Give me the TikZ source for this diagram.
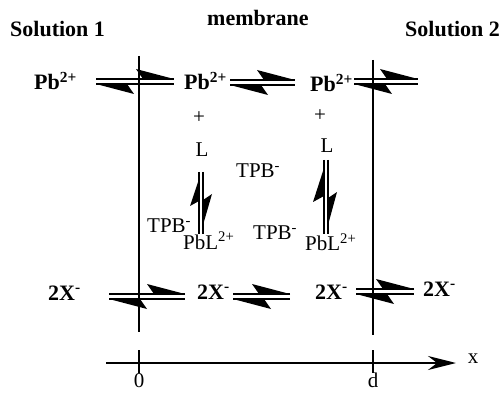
\documentclass[tikz,border=0pt]{standalone}
\usepackage{fontspec}
\setmainfont{Liberation Serif}
\usetikzlibrary{arrows.meta}
\tikzset{
  bold/.style={font=\fontsize{22}{24}\selectfont\bfseries, inner sep=0pt},
  reg/.style={font=\fontsize{21}{24}\selectfont, inner sep=0pt},
  wall/.style={line width=2pt},
  eql/.style={line width=1.8pt},
  pics/eqh/.style={code={
    \draw[eql] (0,0) -- (#1,0);
    \fill (#1,0) -- ++(-38,-10) -- ++(7,10) -- cycle;
    \draw[eql] (0,5) -- (#1,5);
    \fill (0,5) -- ++(38,10) -- ++(-7,-10) -- cycle;
  }},
  pics/eqvA/.style={code={
    \draw[eql] (0,0) -- (0,62);
    \draw[eql] (4,0) -- (4,62);
    \fill (0,7) -- (-9,34) -- (0,29) -- cycle;
    \fill (4,53) -- (13,22) -- (4,28) -- cycle;
  }},
  pics/eqvB/.style={code={
    \draw[eql] (0,0) -- (0,74);
    \draw[eql] (4,0) -- (4,74);
    \fill (0,8) -- (-11,42) -- (0,36) -- cycle;
    \fill (4,65) -- (13,32) -- (4,38) -- cycle;
  }}
}
\begin{document}
\begin{tikzpicture}[x=1pt,y=-1pt]
\useasboundingbox (0,0) rectangle (501,393);
% membrane walls
\coordinate (w1t) at (139,56);
\coordinate (w1b) at (139,332);
\coordinate (w2t) at (373,60);
\coordinate (w2b) at (373,335);
\draw[wall] (w1t) -- (w1b);
\draw[wall] (w2t) -- (w2b);
% headers
\node[bold, anchor=base west] (s1) at (10,37) {Solution 1};
\node[bold, anchor=base west] (mem) at (207,26) {membrane};
\node[bold, anchor=base west] (s2) at (405,37) {Solution 2};
% Pb row
\node[bold, anchor=base west] (pb1) at (34,90) {Pb\textsuperscript{2+}};
\node[bold, anchor=base west] (pb2) at (184,90) {Pb\textsuperscript{2+}};
\node[bold, anchor=base west] (pb3) at (310,92) {Pb\textsuperscript{2+}};
\pic at (96,79) {eqh=78};
\pic at (230,80) {eqh=65};
\pic at (354,79) {eqh=64};
% complexation
\node[reg] (plus1) at (199,118) {+};
\node[reg] (plus2) at (320,116) {+};
\node[reg, anchor=base] (L1) at (202,157) {L};
\node[reg, anchor=base] (L2) at (327,153) {L};
\node[reg, anchor=base west] (tpb1) at (236,178) {TPB\textsuperscript{-}};
\pic at (199,172) {eqvA};
\pic at (324,160) {eqvB};
\node[reg, anchor=base west] (tpb2) at (147,233) {TPB\textsuperscript{-}};
\node[reg, anchor=base west] (pbl1) at (183,249) {PbL\textsuperscript{2+}};
\node[reg, anchor=base west] (tpb3) at (253,240) {TPB\textsuperscript{-}};
\node[reg, anchor=base west] (pbl2) at (305,251) {PbL\textsuperscript{2+}};
% X row
\node[bold, anchor=base west] (x1) at (48,300) {2X\textsuperscript{-}};
\node[bold, anchor=base west] (x2) at (197,299) {2X\textsuperscript{-}};
\node[bold, anchor=base west] (x3) at (315,299) {2X\textsuperscript{-}};
\node[bold, anchor=base west] (x4) at (423,296) {2X\textsuperscript{-}};
\pic at (109,294) {eqh=76};
\pic at (233,294) {eqh=57};
\pic at (356,289) {eqh=58};
% axis
\coordinate (ax0) at (106,363);
\coordinate (ax1) at (456,363);
\draw[wall, -{Stealth[length=28pt,width=14pt]}] (ax0) -- (ax1);
\draw[wall] (139,350) -- (139,373);
\draw[wall] (373,350) -- (373,373);
\node[reg] (zero) at (139,381) {0};
\node[reg] (dlab) at (373,380) {d};
\node[reg] (xlab) at (473,359) {x};
\end{tikzpicture}
\end{document}
